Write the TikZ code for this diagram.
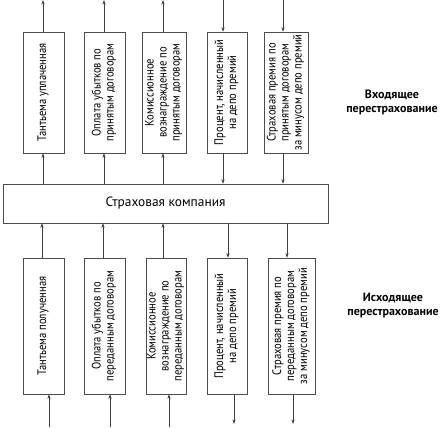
\documentclass[tikz,border=0pt]{standalone}
\usepackage{fontspec}
\setmainfont{PT Sans}
\newfontfamily\boxfont{PT Sans}[FakeStretch=0.86]
\usetikzlibrary{arrows.meta}
\tikzset{
  box/.style={draw=black!70, line width=0.6pt, inner sep=0pt, fill=white},
  arr/.style={draw=black!75, line width=0.6pt, -{Stealth[length=4.5pt,width=3.2pt]}},
  lbl/.style={font=\fontsize{12}{13.5}\selectfont\bfseries, align=center, inner sep=0pt},
}
\newcommand{\vtext}[1]{\rotatebox{90}{\boxfont\fontsize{12.3}{13}\selectfont\begin{tabular}{@{}c@{}}#1\end{tabular}}}
\begin{document}
\begin{tikzpicture}[x=1pt,y=1pt]
\useasboundingbox (0,0) rectangle (443,-427);
% main
\node[box, minimum width=325pt, minimum height=39pt, font=\fontsize{13.4}{15}\selectfont] (M) at (165.5,-203.5) {Страховая компания};
% top boxes
\node[box, minimum width=41pt, minimum height=121pt] (T1) at (43.5,-92.5) {\vtext{Тантьема уплаченная}};
\node[box, minimum width=41pt, minimum height=121pt] (T2) at (104.5,-92.5) {\vtext{Оплата убытков по\\принятым договорам}};
\node[box, minimum width=44pt, minimum height=121pt] (T3) at (164,-92.5) {\vtext{Комиссионное\\вознаграждение по\\принятым договорам}};
\node[box, minimum width=40pt, minimum height=121pt] (T4) at (227,-92.5) {\vtext{Процент, начисленный\\на депо премий}};
\node[box, minimum width=44pt, minimum height=121pt] (T5) at (286,-92.5) {\vtext{Страховая премия по\\принятым договорам\\за минусом депо премий}};
% bottom boxes
\node[box, minimum width=41pt, minimum height=136pt] (B1) at (43.5,-326) {\vtext{Тантьема полученная}};
\node[box, minimum width=41pt, minimum height=136pt] (B2) at (104.5,-326) {\vtext{Оплата убытков по\\переданным договорам}};
\node[box, minimum width=40pt, minimum height=136pt] (B3) at (166,-326) {\vtext{Комиссионное\\вознаграждение по\\переданным договорам}};
\node[box, minimum width=40pt, minimum height=136pt] (B4) at (227,-326) {\vtext{Процент, начисленный\\на депо премий}};
\node[box, minimum width=47pt, minimum height=136pt] (B5) at (291.5,-326) {\vtext{Страховая премия по\\переданным договорам\\за минусом депо премий}};
% labels
\node[lbl] (L1) at (392,-102.5) {Входящее\\перестрахование};
\node[lbl] (L2) at (393,-305.5) {Исходящее\\перестрахование};
% free ends
\coordinate (t1) at (43,0);
\coordinate (t2) at (104,0);
\coordinate (t3) at (163,0);
\coordinate (t4) at (223,0);
\coordinate (t5) at (283,0);
\coordinate (m1) at (42,-203);
\coordinate (m2) at (103,-203);
\coordinate (m3) at (163,-203);
\coordinate (m4) at (228,-203);
\coordinate (m5) at (287,-203);
\coordinate (b1) at (49,-427);
\coordinate (b2) at (110,-427);
\coordinate (b3) at (169,-427);
\coordinate (b4) at (234,-424);
\coordinate (b5) at (293,-424);
% top arrows
\draw[arr] (t1 |- T1.north) -- (t1);
\draw[arr] (t2 |- T2.north) -- (t2);
\draw[arr] (t3 |- T3.north) -- (t3);
\draw[arr] (t4) -- (t4 |- T4.north);
\draw[arr] (t5) -- (t5 |- T5.north);
% top to main
\draw[arr] (t1 |- M.north) -- (t1 |- T1.south);
\draw[arr] (t2 |- M.north) -- (t2 |- T2.south);
\draw[arr] (t3 |- M.north) -- (t3 |- T3.south);
\draw[arr] (t4 |- T4.south) -- (t4 |- M.north);
\draw[arr] (t5 |- T5.south) -- (t5 |- M.north);
% main to bottom
\draw[arr] (m1 |- B1.north) -- (m1 |- M.south);
\draw[arr] (m2 |- B2.north) -- (m2 |- M.south);
\draw[arr] (m3 |- B3.north) -- (m3 |- M.south);
\draw[arr] (m4 |- M.south) -- (m4 |- B4.north);
\draw[arr] (m5 |- M.south) -- (m5 |- B5.north);
% bottom
\draw[arr] (b1) -- (b1 |- B1.south);
\draw[arr] (b2) -- (b2 |- B2.south);
\draw[arr] (b3) -- (b3 |- B3.south);
\draw[arr] (b4 |- B4.south) -- (b4);
\draw[arr] (b5 |- B5.south) -- (b5);
\end{tikzpicture}
\end{document}
